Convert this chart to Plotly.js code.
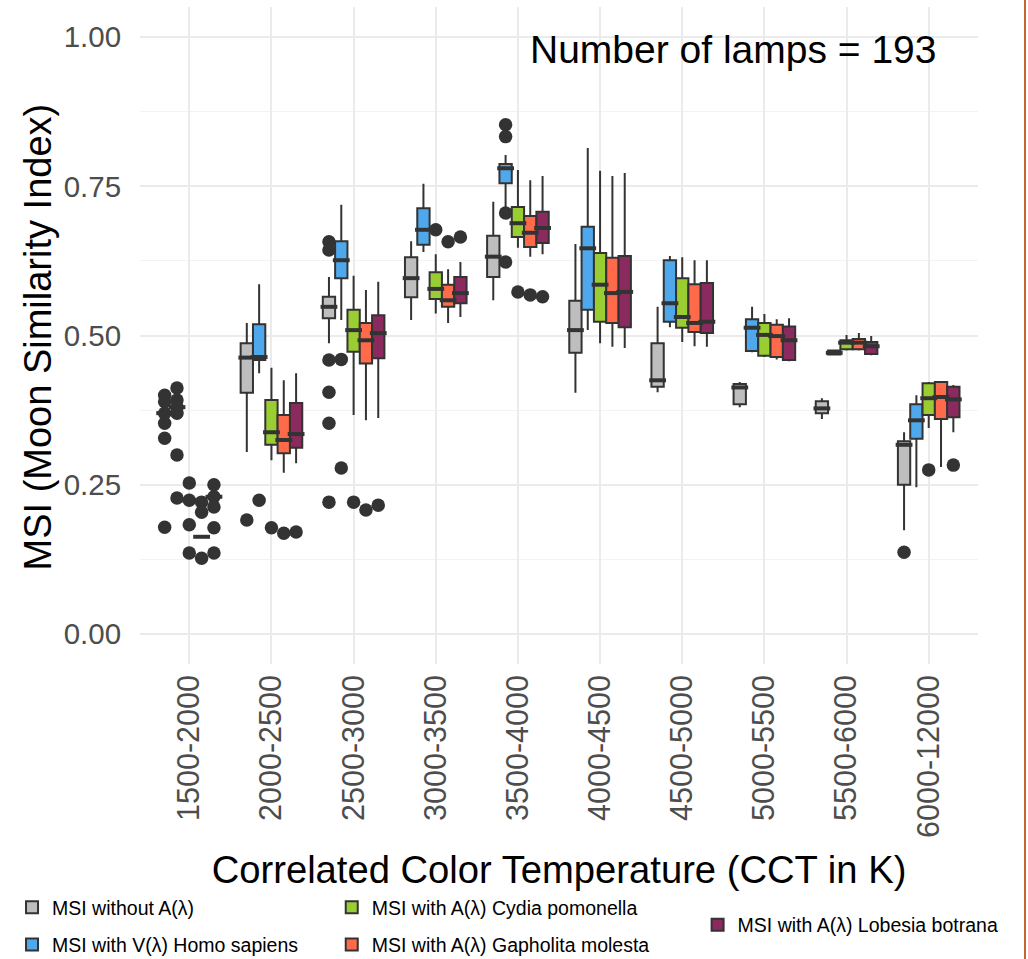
<!DOCTYPE html>
<html>
<head>
<meta charset="utf-8">
<script src="https://cdn.plot.ly/plotly-3.0.1.min.js"></script>
<style>html,body{margin:0;padding:0;background:#fff;}#chart{width:1028px;height:959px;}</style>
</head>
<body>
<div id="chart"></div>
<script>
// ---- data ----
const categories = ['1500-2000','2000-2500','2500-3000','3000-3500','3500-4000','4000-4500','4500-5000','5000-5500','5500-6000','6000-12000'];
const seriesNames = ['MSI without A(\u03bb)','MSI with V(\u03bb) Homo sapiens','MSI with A(\u03bb) Cydia pomonella','MSI with A(\u03bb) Gapholita molesta','MSI with A(\u03bb) Lobesia botrana'];

// MSI without A(λ)
const greyQ1  = [0.370,0.404,0.529,0.564,0.598,0.471,0.414,0.385,0.370,0.250];
const greyMed = [0.370,0.463,0.548,0.596,0.632,0.509,0.425,0.413,0.378,0.317];
const greyQ3  = [0.370,0.487,0.565,0.631,0.667,0.558,0.487,0.419,0.390,0.323];
const greyLo  = [0.370,0.305,0.487,0.526,0.559,0.404,0.405,0.380,0.360,0.174];
const greyHi  = [0.370,0.521,0.598,0.658,0.724,0.653,0.548,0.422,0.395,0.338];
const greyOutX = ['1500-2000','1500-2000','1500-2000','1500-2000','1500-2000','1500-2000','2000-2500','2500-3000','2500-3000','2500-3000','2500-3000','2500-3000','2500-3000','6000-12000'];
const greyOutY = [0.400,0.389,0.370,0.353,0.328,0.179,0.191,0.657,0.643,0.459,0.405,0.353,0.221,0.137];

// MSI with V(λ) Homo sapiens
const blueQ1  = [0.380,0.459,0.596,0.652,0.755,0.543,0.523,0.474,0.468,0.327];
const blueMed = [0.380,0.464,0.626,0.677,0.780,0.646,0.554,0.513,0.471,0.358];
const blueQ3  = [0.380,0.519,0.658,0.713,0.787,0.682,0.626,0.527,0.475,0.385];
const blueLo  = [0.380,0.437,0.526,0.640,0.715,0.509,0.514,0.472,0.468,0.246];
const blueHi  = [0.380,0.586,0.719,0.754,0.802,0.814,0.633,0.548,0.475,0.400];
const blueOutX = ['1500-2000','1500-2000','1500-2000','1500-2000','1500-2000','1500-2000','2000-2500','2500-3000','2500-3000','3500-4000','3500-4000','3500-4000','3500-4000'];
const blueOutY = [0.412,0.392,0.380,0.370,0.300,0.228,0.224,0.460,0.278,0.853,0.833,0.705,0.623];

// MSI with A(λ) Cydia pomonella
const greenQ1  = [0.224,0.317,0.473,0.561,0.665,0.523,0.513,0.466,0.477,0.367];
const greenMed = [0.224,0.338,0.509,0.578,0.688,0.585,0.531,0.501,0.488,0.395];
const greenQ3  = [0.224,0.392,0.543,0.606,0.715,0.638,0.596,0.521,0.492,0.420];
const greenLo  = [0.224,0.291,0.367,0.537,0.647,0.487,0.489,0.464,0.475,0.345];
const greenHi  = [0.224,0.446,0.600,0.636,0.777,0.776,0.631,0.536,0.501,0.422];
const greenOutX = ['1500-2000','1500-2000','1500-2000','1500-2000','2000-2500','2500-3000','3000-3500','3500-4000','6000-12000'];
const greenOutY = [0.253,0.224,0.183,0.136,0.178,0.221,0.677,0.573,0.275];

// MSI with A(λ) Gapholita molesta
const orangeQ1  = [0.163,0.303,0.453,0.548,0.648,0.521,0.506,0.464,0.477,0.360];
const orangeMed = [0.163,0.325,0.492,0.559,0.672,0.571,0.521,0.499,0.488,0.397];
const orangeQ3  = [0.163,0.367,0.521,0.585,0.700,0.630,0.586,0.518,0.494,0.422];
const orangeLo  = [0.163,0.270,0.358,0.521,0.632,0.481,0.482,0.460,0.475,0.280];
const orangeHi  = [0.163,0.425,0.576,0.611,0.760,0.767,0.626,0.527,0.504,0.424];
const orangeOutX = ['1500-2000','1500-2000','1500-2000','2000-2500','2500-3000','3000-3500','3500-4000'];
const orangeOutY = [0.221,0.204,0.127,0.169,0.208,0.657,0.568];

// MSI with A(λ) Lobesia botrana
const purpleQ1  = [0.230,0.312,0.462,0.554,0.655,0.514,0.504,0.459,0.469,0.363];
const purpleMed = [0.230,0.335,0.504,0.571,0.680,0.573,0.523,0.492,0.482,0.393];
const purpleQ3  = [0.230,0.387,0.534,0.598,0.707,0.633,0.588,0.515,0.489,0.414];
const purpleLo  = [0.230,0.286,0.362,0.531,0.636,0.479,0.481,0.457,0.467,0.338];
const purpleHi  = [0.230,0.437,0.590,0.623,0.767,0.772,0.626,0.529,0.499,0.417];
const purpleOutX = ['1500-2000','1500-2000','1500-2000','1500-2000','1500-2000','2000-2500','2500-3000','3000-3500','3500-4000','6000-12000'];
const purpleOutY = [0.250,0.230,0.213,0.178,0.136,0.171,0.216,0.665,0.565,0.283];

const yTickVals = [0, 0.25, 0.5, 0.75, 1.0];
const yTickText = ['0.00','0.25','0.50','0.75','1.00'];
const yTitle = 'MSI (Moon Similarity Index)';
const xTitle = 'Correlated Color Temperature (CCT in K)';
const lampLabel = 'Number of lamps = 193';

// ---- styling ----
const fills = ['#BEBEBE','#4FA8EC','#9ACD32','#FF6A4A','#8B2A5E'];
const legendIds = ['legend','legend','legend2','legend2','legend3'];
const FONT = 'Liberation Sans, Arial, Helvetica, sans-serif';
const INK = '#333333';

const stats = [
  [greyQ1, greyMed, greyQ3, greyLo, greyHi, greyOutX, greyOutY],
  [blueQ1, blueMed, blueQ3, blueLo, blueHi, blueOutX, blueOutY],
  [greenQ1, greenMed, greenQ3, greenLo, greenHi, greenOutX, greenOutY],
  [orangeQ1, orangeMed, orangeQ3, orangeLo, orangeHi, orangeOutX, orangeOutY],
  [purpleQ1, purpleMed, purpleQ3, purpleLo, purpleHi, purpleOutX, purpleOutY]
];

const traces = [];
stats.forEach((s, i) => {
  traces.push({
    type: 'box', name: seriesNames[i], x: categories,
    q1: s[0], median: s[1], q3: s[2], lowerfence: s[3], upperfence: s[4],
    boxpoints: false, fillcolor: fills[i], line: {color: INK, width: 2},
    whiskerwidth: 0, offsetgroup: 'g' + i, alignmentgroup: 'boxes',
    legend: legendIds[i], legendgroup: 'lg' + i, hoverinfo: 'skip'
  });
});
// thicker median bars (ggplot style), placed by the same grouping as the boxes
stats.forEach((s, i) => {
  traces.push({
    type: 'scatter', mode: 'markers', x: categories, y: s[1], showlegend: false,
    marker: {symbol: 'line-ew', size: 12, line: {color: INK, width: 4}},
    offsetgroup: 'g' + i, alignmentgroup: 'pts', hoverinfo: 'skip'
  });
});
stats.forEach((s, i) => {
  traces.push({
    type: 'scatter', mode: 'markers', x: s[5], y: s[6], showlegend: false,
    marker: {size: 13.5, color: INK}, offsetgroup: 'g' + i, alignmentgroup: 'pts',
    hoverinfo: 'skip'
  });
});

const legendBase = {
  orientation: 'v', xref: 'container', yref: 'container', bgcolor: 'rgba(0,0,0,0)',
  borderwidth: 0, font: {family: FONT, size: 19.5, color: '#000'},
  traceorder: 'grouped', tracegroupgap: 9, itemclick: false
};

const layout = {
  width: 1028, height: 959,
  paper_bgcolor: '#ffffff', plot_bgcolor: '#ffffff',
  margin: {l: 140, r: 50, t: 7, b: 295, autoexpand: false},
  font: {family: FONT, color: '#000'},
  boxmode: 'group', boxgap: 0.25, boxgroupgap: 0,
  scattermode: 'group', scattergap: 0.25,
  showlegend: true,
  xaxis: {
    type: 'category', categoryorder: 'array', categoryarray: categories,
    range: [-0.6, 9.6], showgrid: true, gridcolor: '#EBEBEB', gridwidth: 2,
    zeroline: false, showline: false, ticks: '', tickangle: -90,
    tickfont: {family: FONT, size: 30.5, color: '#4D4D4D'}, ticklabelstandoff: 4,
    title: {text: xTitle, font: {family: FONT, size: 38.2, color: '#000'}, standoff: 19},
    automargin: false
  },
  yaxis: {
    range: [-0.05, 1.05], tickvals: yTickVals, ticktext: yTickText,
    showgrid: true, gridcolor: '#EBEBEB', gridwidth: 2, zeroline: false, showline: false,
    ticks: 'outside', ticklen: 12, tickcolor: 'rgba(0,0,0,0)',
    minor: {tick0: 0.125, dtick: 0.25, showgrid: true, gridcolor: '#F3F3F3', gridwidth: 1.2, ticks: ''},
    tickfont: {family: FONT, size: 29.5, color: '#4D4D4D'},
    automargin: false
  },
  legend: Object.assign({}, legendBase, {x: 0.0117, y: 1 - 888/959, xanchor: 'left', yanchor: 'top'}),
  legend2: Object.assign({}, legendBase, {x: 0.3227, y: 1 - 888/959, xanchor: 'left', yanchor: 'top'}),
  legend3: Object.assign({}, legendBase, {x: 0.6786, y: 1 - 925/959, xanchor: 'left', yanchor: 'middle'}),
  annotations: [{
    text: lampLabel, xref: 'paper', yref: 'paper', x: 0.7076, y: 0.9346,
    xanchor: 'center', yanchor: 'middle', showarrow: false,
    font: {family: FONT, size: 39, color: '#000'}
  }, {
    text: yTitle, xref: 'paper', yref: 'paper', x: -0.1217, y: 0.497, textangle: -90,
    xanchor: 'center', yanchor: 'middle', showarrow: false,
    font: {family: FONT, size: 38, color: '#000'}
  }],
  shapes: [{
    type: 'line', xref: 'paper', yref: 'paper', xsizemode: 'pixel', xanchor: 1,
    x0: 47, x1: 47, y0: -0.45, y1: 1.02, line: {color: '#C8642E', width: 2}
  }]
};

Plotly.newPlot('chart', traces, layout, {displayModeBar: false, staticPlot: true});
</script>
</body>
</html>
